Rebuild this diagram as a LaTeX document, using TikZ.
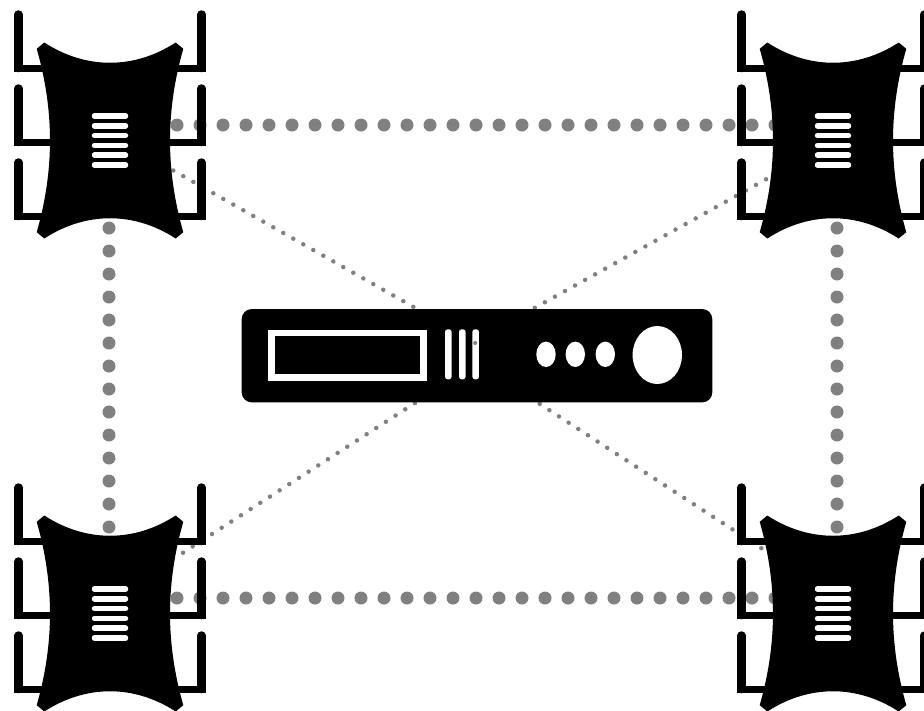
\documentclass[tikz,border=0pt]{standalone}
\usepackage{xcolor}
\usetikzlibrary{positioning,shapes.geometric}
\definecolor{linkgray}{HTML}{808080}
\tikzset{
  trunk/.style={draw=linkgray, line width=13pt, line cap=round, dash pattern=on 0pt off 23pt},
  spoke/.style={draw=linkgray, line width=4.5pt, line cap=round, dash pattern=on 0pt off 11.5pt},
  prong/.style={draw=black, line width=8.5pt, line cap=round},
  stripe/.style={draw=white, line width=5.5pt, line cap=round},
  chassis/.style={fill=black, rectangle, rounded corners=10pt, inner sep=0pt,
                  minimum width=470.6pt, minimum height=93.3pt},
  screen/.style={draw=white, line width=6.5pt, rectangle, inner sep=0pt,
                 minimum width=152.4pt, minimum height=44.7pt},
  slot/.style={fill=white, rectangle, rounded corners=2.5pt, inner sep=0pt,
               minimum width=6.5pt, minimum height=50pt},
  lamp/.style={fill=white, ellipse, inner sep=0pt, minimum width=19.4pt, minimum height=25.4pt},
  knob/.style={fill=white, ellipse, inner sep=0pt, minimum width=49.4pt, minimum height=58pt},
  speck/.style={fill=linkgray, circle, inner sep=0pt, minimum size=4pt},
}
\begin{document}
\begin{tikzpicture}[x=1pt,y=-1pt]
  \useasboundingbox[fill=white] (0,0) rectangle (924,710);
  % ports of the switches
  \coordinate (nwE) at (177,125);
  \coordinate (neW) at (776,125);
  \coordinate (swE) at (177,598);
  \coordinate (seW) at (776,598);
  \coordinate (nwS) at (109,228);
  \coordinate (swN) at (109,528);
  \coordinate (neS) at (837,228);
  \coordinate (seN) at (837,528);
  \coordinate (nwP) at (173.3,170.5);
  \coordinate (neP) at (766,179.3);
  \coordinate (swP) at (183,552.7);
  \coordinate (seP) at (771,554.5);
  % ports of the server
  \coordinate (hubNW) at (477,343);
  \coordinate (hubNE) at (477,340);
  \coordinate (hubSW) at (477,363);
  \coordinate (hubSE) at (477,363);
  % links
  \draw[trunk] (nwE) -- (neW);
  \draw[trunk] (swE) -- (seW);
  \draw[trunk] (nwS) -- (swN);
  \draw[trunk] (neS) -- (seN);
  \draw[spoke] (nwP) -- (hubNW);
  \draw[spoke] (neP) -- (hubNE);
  \draw[spoke] (swP) -- (hubSW);
  \draw[spoke] (seP) -- (hubSE);
  % switches
  \foreach \swname/\px/\py in {swNW/110/140.5, swNE/833/140.5, swSW/110/613.5, swSE/833/613.5} {
    \coordinate (\swname) at (\px,\py);
    \begin{scope}[shift={(\swname)}]
      \foreach \dy in {0,74,148} {
        \draw[prong] (-91.5,-126+\dy) -- (-91.5,-72.5+\dy);
        \draw[prong] (91.5,-126+\dy) -- (91.5,-72.5+\dy);
        \fill[black] (-95.75,-75.5+\dy) rectangle (-55,-69+\dy);
        \fill[black] (95.75,-75.5+\dy) rectangle (55,-69+\dy);
      }
      \fill[black] (-73.3,-91.7) -- (-65.7,-98)
        .. controls (-24,-71) and (24,-71) .. (65.7,-98)
        -- (73.3,-91.7)
        .. controls (55.6,-30) and (55.6,30) .. (73.3,91.7)
        -- (65.7,98)
        .. controls (24,71) and (-24,71) .. (-65.7,98)
        -- (-73.3,91.7)
        .. controls (-55.6,30) and (-55.6,-30) .. cycle;
      \foreach \k in {0,...,5} {
        \draw[stripe] (-15.5,-24.5+9.8*\k) -- (15.5,-24.5+9.8*\k);
      }
    \end{scope}
  }
  % server
  \node[chassis] (server) at (477,355.7) {};
  \node[screen] (display) at (347.5,355.3) {};
  \node[slot] (slotA) at (448.3,354.3) {};
  \node[slot] (slotB) at (462.3,354.3) {};
  \node[slot] (slotC) at (475.7,354.3) {};
  \node[lamp] (lampA) at (546,354.3) {};
  \node[lamp] (lampB) at (575.3,354.3) {};
  \node[lamp] (lampC) at (605.3,354.3) {};
  \node[knob] (dial) at (657.3,355) {};
  \node[speck] (dot) at (475.2,343) {};
\end{tikzpicture}
\end{document}
